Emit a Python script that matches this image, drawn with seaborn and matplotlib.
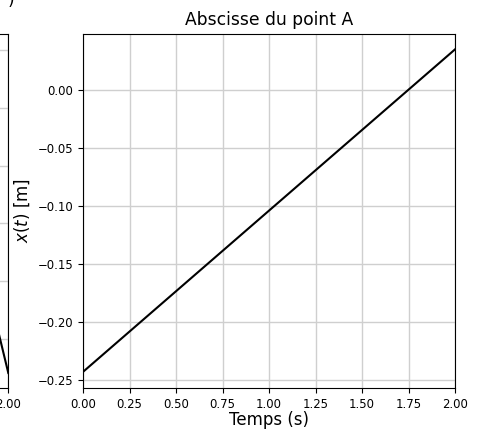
import matplotlib
matplotlib.use("Agg")
import matplotlib.pyplot as plt
import seaborn as sns
import numpy as np
import pandas as pd

# Data
t_main = [0.0, 0.5, 1.0, 1.5, 2.0]
x_main = [-0.243, -0.1735, -0.104, -0.0345, 0.035]
x_ticks = [0.0, 0.25, 0.5, 0.75, 1.0, 1.25, 1.5, 1.75, 2.0]
y_ticks = [0.0, -0.05, -0.10, -0.15, -0.20, -0.25]

# Partially visible neighbour panel (only its right edge shows)
t_left = [1.90, 2.0]
v_left = [-1.128, -1.794]
left_yticks = [1.0, 0.5, 0.0, -0.5, -1.0, -1.5]

W, H = 481, 430
fig = plt.figure(figsize=(W / 100, H / 100), dpi=100)

ax = fig.add_axes([83 / W, 1 - 388 / H, (455 - 83) / W, (388 - 33.5) / H])
axl = fig.add_axes([8.3 / W - (455 - 83) / W, 1 - 388 / H, (455 - 83) / W, (388 - 33.5) / H])

grid_kw = dict(color="#cfcfcf", linewidth=1.0)

df = pd.DataFrame({"t": t_main, "x": x_main})
sns.lineplot(data=df, x="t", y="x", ax=ax, color="black", linewidth=1.5)
ax.set_xlim(0, 2)
ax.set_ylim(-0.2569, 0.0487)
ax.set_xticks(x_ticks)
ax.set_yticks(y_ticks)
ax.set_xticklabels([f"{v:.2f}" for v in x_ticks])
ax.set_yticklabels([f"{v:.2f}".replace("-", "\u2212") for v in y_ticks])
ax.tick_params(labelsize=8.4)
ax.grid(True, **grid_kw)
ax.set_axisbelow(True)
ax.set_title("Abscisse du point A", fontsize=12.3)
ax.set_xlabel("Temps (s)", fontsize=12, labelpad=0.5)
ax.set_ylabel(r"$x(t)$ [m]", fontsize=12)

dfl = pd.DataFrame({"t": t_left, "v": v_left})
sns.lineplot(data=dfl, x="t", y="v", ax=axl, color="black", linewidth=1.5)
axl.set_xlim(0, 2)
axl.set_ylim(-1.924, 1.143)
axl.set_xticks(x_ticks)
axl.set_xticklabels([f"{v:.2f}" for v in x_ticks])
axl.set_yticks(left_yticks)
axl.tick_params(labelsize=8.4)
axl.grid(True, **grid_kw)
axl.set_axisbelow(True)
axl.set_xlabel("")
axl.set_ylabel("")

fig.text(11 / W, 1 - 9 / H, ")", fontsize=12.3, ha="center", va="bottom")

fig.savefig("out.png", dpi=100)
